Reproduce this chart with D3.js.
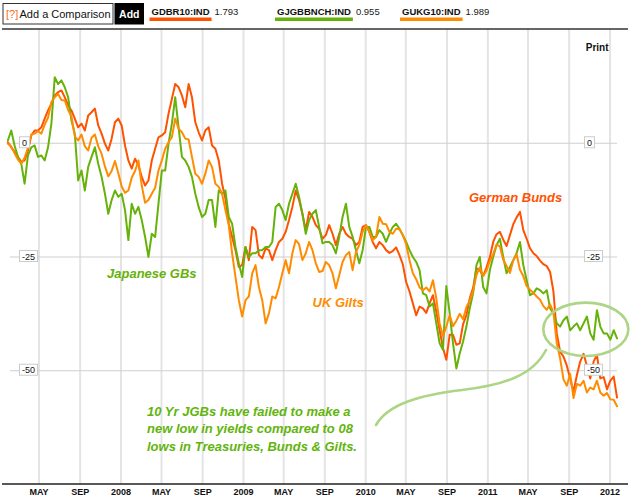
<!DOCTYPE html>
<html><head><meta charset="utf-8">
<script src="https://cdn.jsdelivr.net/npm/d3@7/dist/d3.min.js"></script>
<style>
html,body{margin:0;padding:0;background:#fff;}
svg{display:block;font-family:"Liberation Sans",Arial,Helvetica,sans-serif;}
</style></head>
<body>
<svg id="chart" width="630" height="503"></svg>
<script>
// ---- data ----
const seriesCodes = ["GDBR10:IND", "GJGBBNCH:IND", "GUKG10:IND"];
const seriesLast = ["1.793", "0.955", "1.989"];
const seriesColors = ["#ff5200", "#66b20a", "#ff8c00"];
const startDate = new Date(2007, 0, 28);
const stepDays = 10;
const yTickValues = [0, -25, -50];

const gdbr = [0.1,-1.0,-2.0,-3.1,-4.2,-3.9,-1.7,1.6,2.7,2.7,3.4,5.3,7.1,8.6,10.4,11.1,11.5,10.0,8.2,7.1,5.3,3.4,4.2,2.7,6.0,6.7,7.5,3.8,2.0,-0.2,-1.7,0.9,4.5,5.3,3.8,-0.6,-3.9,-5.7,-3.5,-5.0,-7.5,-9.4,-8.3,-3.9,-1.3,
1.2,1.6,2.3,6.4,9.6,12.9,12.2,10.4,7.8,12.9,10.0,4.5,2.3,0.5,2.7,3.4,-0.6,-1.3,-3.9,-9.0,-12.3,-17.8,-20.7,-23.6,-27.3,-26.9,-22.9,-25.8,-18.5,-19.2,-24.7,-25.4,-23.2,-23.6,-25.8,-23.6,-21.8,-21.1,-19.6,-17.0,-14.1,-10.5,-12.6,-15.6,-19.2,
-15.2,-16.3,-18.1,-18.9,-21.1,-20.3,-18.1,-20.0,-22.5,-20.0,-18.5,-20.0,-20.7,-21.1,-22.5,-21.8,-18.5,-18.1,-19.6,-21.8,-23.2,-21.8,-22.5,-23.6,-24.2,-23.8,-23.0,-24.7,-26.7,-30.6,-32.7,-35.3,-37.9,-36.0,-36.4,-37.4,-35.3,-33.5,-37.1,-41.2,-45.1,-47.7,-42.2,-42.2,-44.4,
-44.1,-39.9,-37.9,-34.2,-31.9,-27.6,-28.0,-29.3,-27.4,-25.2,-21.8,-20.1,-19.6,-21.3,-22.7,-20.3,-17.9,-16.4,-15.2,-19.2,-21.1,-23.2,-24.3,-24.9,-25.9,-26.7,-27.1,-28.4,-32.7,-41.9,-45.9,-47.0,-49.0,-51.8,-54.7,-51.1,-48.1,-46.4,-49.0,-51.8,-48.1,-46.6,-51.8,-51.5,-54.2,-52.3,-51.4,-56.0];

const gjgb = [0.5,2.7,-0.6,-3.1,-4.6,-9.0,-2.8,-1.0,-0.6,-3.1,-2.8,-3.9,-1.0,4.2,14.4,12.9,13.7,12.2,10.0,4.9,2.0,-8.3,-6.1,-10.5,-5.3,-3.1,-1.0,-4.6,-7.5,-11.2,-15.6,-12.6,-10.5,-11.9,-11.2,-14.8,-21.4,-13.4,-15.6,-14.1,-17.0,-20.7,-25.1,-20.0,-20.7,
-13.4,-6.1,-6.1,-0.2,4.2,10.0,3.4,-3.1,-3.9,-5.3,-7.5,-11.2,-14.1,-16.3,-15.6,-12.6,-12.6,-18.5,-10.5,-11.2,-10.5,-16.3,-17.8,-22.9,-26.5,-29.5,-22.9,-25.1,-24.3,-24.3,-23.6,-23.6,-22.9,-22.9,-21.8,-14.1,-13.4,-14.8,-17.0,-13.4,-11.2,-9.0,-11.9,-15.6,-20.0,
-17.0,-15.6,-14.8,-18.5,-22.1,-21.8,-21.8,-22.5,-24.3,-20.7,-16.3,-13.4,-18.5,-20.7,-23.6,-26.5,-23.6,-18.5,-18.5,-20.7,-20.7,-19.2,-20.0,-21.8,-20.0,-18.5,-17.8,-18.9,-20.3,-21.8,-23.6,-25.1,-26.2,-28.0,-33.1,-33.5,-36.0,-35.3,-39.7,-44.1,-45.5,-31.5,-37.5,-44.1,-49.6,
-46.3,-43.7,-40.4,-36.4,-33.1,-26.9,-25.1,-31.7,-33.1,-28.0,-25.1,-22.5,-21.1,-25.1,-28.7,-27.3,-25.8,-24.3,-21.8,-26.9,-30.2,-33.5,-33.1,-32.0,-32.4,-33.1,-32.4,-36.4,-37.5,-39.7,-40.4,-39.0,-38.2,-41.2,-40.4,-39.7,-41.2,-39.7,-38.2,-41.9,-43.3,-36.8,-40.4,-41.9,-41.9,-43.3,-41.2,-43.0];

const gukg = [-0.2,-0.8,-2.3,-3.7,-4.6,-3.3,-1.1,1.8,2.0,2.6,2.0,4.0,5.5,8.9,10.0,10.7,9.4,9.3,7.2,5.8,1.4,0.5,1.8,-0.8,-1.7,1.1,1.8,-0.8,-2.4,-5.2,-7.4,-6.2,-4.0,-6.7,-9.6,-11.0,-10.5,-7.7,-6.2,-3.9,-9.4,-13.2,-12.6,-11.2,-9.9,
-6.1,-3.9,-1.3,0.1,1.2,5.3,3.1,2.3,0.9,0.7,-3.1,-6.8,-7.5,-9.0,-6.8,-3.9,-5.3,-9.0,-9.7,-11.2,-14.8,-18.1,-24.3,-29.5,-34.6,-38.2,-34.6,-33.8,-28.7,-26.9,-31.7,-34.6,-39.7,-37.5,-33.8,-34.2,-31.7,-28.7,-25.8,-28.7,-24.3,-21.4,-22.3,-25.8,-24.3,
-21.8,-23.6,-26.5,-28.4,-28.2,-26.2,-26.9,-28.7,-32.0,-29.1,-26.2,-24.7,-24.0,-28.0,-24.0,-22.5,-19.6,-18.1,-19.6,-21.4,-20.7,-16.3,-17.8,-17.9,-19.6,-20.0,-18.9,-19.0,-20.3,-22.3,-25.8,-28.7,-30.0,-31.8,-32.4,-31.8,-32.7,-30.2,-34.2,-39.7,-42.5,-40.4,-37.9,-40.3,-39.1,
-37.6,-38.8,-36.1,-34.7,-32.6,-29.1,-27.4,-29.3,-28.1,-26.0,-24.5,-22.4,-22.8,-25.7,-27.1,-28.6,-25.9,-24.5,-27.9,-29.3,-31.5,-32.3,-33.0,-33.8,-34.5,-35.9,-36.7,-35.5,-37.3,-44.1,-47.4,-52.0,-53.4,-50.8,-56.1,-53.0,-53.4,-52.3,-54.9,-53.8,-54.2,-52.3,-54.9,-55.6,-55.0,-56.4,-56.5,-57.9];

const seriesValues = [gdbr, gjgb, gukg];
const drawOrder = [0, 1, 2];

const annotations = [
  {text: "Japanese GBs", color: "#66b20a"},
  {text: "UK Gilts", color: "#ff8c00"},
  {text: "German Bunds", color: "#ff5200"}
];
const noteLines = ["10 Yr JGBs have failed to make a", "new low in yields compared to 08", "lows in Treasuries, Bunds & Gilts."];

// ---- drawing ----
const svg = d3.select("#chart");
const font = '"Liberation Sans",Arial,Helvetica,sans-serif';

const x = d3.scaleTime()
  .domain([new Date(2008, 0, 1), new Date(2012, 0, 1)])
  .range([121, 610]);
const y = d3.scaleLinear().domain([-75, 25]).range([484, 29]);

const tickDates = d3.timeMonth.every(4).range(new Date(2007, 4, 1), new Date(2012, 0, 2));
const fmtTick = d => d.getMonth() === 0 ? d3.timeFormat("%Y")(d) : d3.timeFormat("%b")(d).toUpperCase();

// vertical grid
svg.append("g").selectAll("line").data(tickDates).join("line")
  .attr("x1", d => x(d)).attr("x2", d => x(d))
  .attr("y1", y(25)).attr("y2", y(-75))
  .attr("stroke", "#e4e4e4").attr("stroke-width", 2);

// horizontal grid
svg.append("g").selectAll("line").data(yTickValues).join("line")
  .attr("x1", 10).attr("x2", 617)
  .attr("y1", d => y(d) + 0.5).attr("y2", d => y(d) + 0.5)
  .attr("stroke", "#cfcfcf").attr("stroke-width", 1);

// top separator and bottom axis line
svg.append("line").attr("x1", 2).attr("x2", 628).attr("y1", y(25)).attr("y2", y(25))
  .attr("stroke", "#333").attr("stroke-width", 1.5);
svg.append("line").attr("x1", 2).attr("x2", 628).attr("y1", y(-75)).attr("y2", y(-75))
  .attr("stroke", "#222").attr("stroke-width", 1.5);

// x axis labels
svg.append("g").selectAll("text").data(tickDates).join("text")
  .attr("x", d => x(d)).attr("y", 494.5)
  .attr("text-anchor", "middle")
  .attr("font-size", 9).attr("font-weight", "bold").attr("fill", "#111")
  .text(fmtTick);

// lines
const line = d3.line()
  .x((d, i) => x(d3.timeDay.offset(startDate, i * stepDays)))
  .y(d => y(d));
drawOrder.forEach(s => {
  svg.append("path").datum(seriesValues[s])
    .attr("d", line).attr("fill", "none")
    .attr("stroke", seriesColors[s]).attr("stroke-width", 2)
    .attr("stroke-linejoin", "round").attr("stroke-linecap", "round");
});

// y labels (boxed) left and right
function yLabels(xLeft) {
  const g = svg.append("g");
  yTickValues.forEach(v => {
    const t = g.append("text").attr("x", xLeft + 2.5).attr("y", y(v) + 3)
      .attr("font-size", 9).attr("fill", "#111").text(String(v));
    const w = t.node().getComputedTextLength();
    g.insert("rect", "text").attr("x", xLeft).attr("y", y(v) - 6)
      .attr("width", w + 5).attr("height", 11)
      .attr("fill", "#fff").attr("stroke", "#cccccc").attr("stroke-width", 1);
  });
}
yLabels(19.5);
yLabels(584.5);

// header
svg.append("rect").attr("x", 3).attr("y", 3.5).attr("width", 110).attr("height", 20.5)
  .attr("fill", "#fff").attr("stroke", "#333").attr("stroke-width", 1);
svg.append("text").attr("x", 6).attr("y", 18).attr("font-size", 11).attr("fill", "#ff6a13").text("[?]");
svg.append("text").attr("x", 19.5).attr("y", 18).attr("font-size", 11).attr("fill", "#111").text("Add a Comparison");
svg.append("rect").attr("x", 114.5).attr("y", 3).attr("width", 29.5).attr("height", 21.5).attr("fill", "#000");
svg.append("text").attr("x", 129.3).attr("y", 17.8).attr("text-anchor", "middle")
  .attr("font-size", 10.5).attr("font-weight", "bold").attr("fill", "#fff").text("Add");

const legendX = [151.5, 277, 402];
seriesCodes.forEach((code, i) => {
  const t = svg.append("text").attr("x", legendX[i]).attr("y", 14.5)
    .attr("font-size", 9.5).attr("font-weight", "bold").attr("fill", "#111").text(code);
  const w = t.node().getComputedTextLength();
  svg.append("text").attr("x", legendX[i] + w + 5).attr("y", 14.5)
    .attr("font-size", 9.5).attr("fill", "#222").text(seriesLast[i]);
  svg.append("rect").attr("x", legendX[i] - 2).attr("y", 17.5).attr("width", w + 4).attr("height", 3.5)
    .attr("fill", seriesColors[i]);
});

svg.append("text").attr("x", 608.5).attr("y", 50.5).attr("text-anchor", "end")
  .attr("font-size", 10).attr("font-weight", "bold").attr("fill", "#111").text("Print");

// annotations
const annPos = [[107, 277.5], [312.5, 306.5], [469, 202]];
annotations.forEach((a, i) => {
  svg.append("text").attr("x", annPos[i][0]).attr("y", annPos[i][1])
    .attr("font-size", 13).attr("font-weight", "bold").attr("font-style", "italic")
    .attr("fill", a.color).text(a.text);
});
noteLines.forEach((l, i) => {
  svg.append("text").attr("x", 147).attr("y", 416 + i * 17.3)
    .attr("font-size", 13).attr("font-weight", "bold").attr("font-style", "italic")
    .attr("fill", "#62b40c").text(l);
});

// hand-drawn highlight
svg.append("ellipse").attr("cx", 585.8).attr("cy", 329.3).attr("rx", 42.5).attr("ry", 26.7)
  .attr("fill", "none").attr("stroke", "#acd585").attr("stroke-width", 2.6);
svg.append("path")
  .attr("d", "M376,425 C388,404 420,395 462,390 C505,385 533,375 546,350")
  .attr("fill", "none").attr("stroke", "#acd585").attr("stroke-width", 2.6).attr("stroke-linecap", "round");
</script>
</body></html>
